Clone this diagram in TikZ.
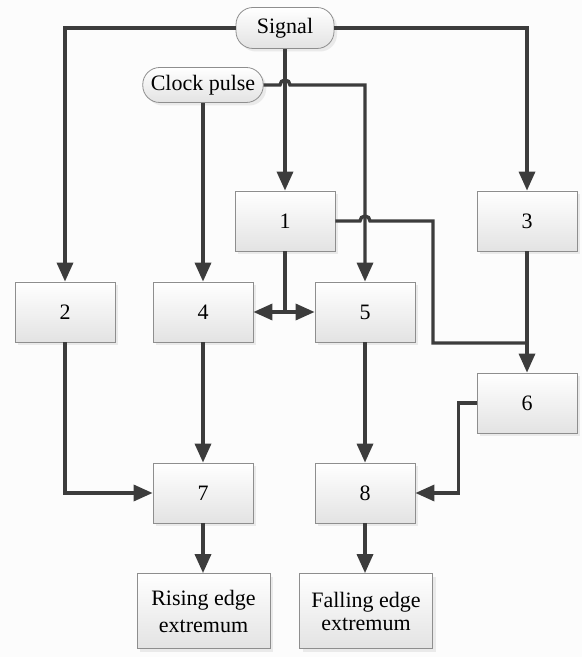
\documentclass[tikz,border=0pt]{standalone}
\usepackage{fontspec}
\setmainfont{Liberation Serif}
\usetikzlibrary{arrows.meta,shadows}
\definecolor{lineGray}{HTML}{3C3C3C}
\definecolor{edgeGray}{HTML}{8E8E8E}
\definecolor{paper}{HTML}{FCFCFC}

\begin{document}
\begin{tikzpicture}[x=0.5pt,y=-0.5pt,
    box/.style={draw=edgeGray, thin, top color=white, bottom color=gray!22,
        minimum width=50pt, minimum height=30pt, inner sep=1pt, align=center,
        drop shadow={shadow xshift=1.5pt, shadow yshift=-1.5pt, fill=gray!30},
        font=\fontsize{11}{12.5}\selectfont},
    pill/.style={box, rounded corners=8.5pt, inner xsep=4pt},
    wire/.style={draw=lineGray, line width=1.7pt},
    arr/.style={wire, -{Triangle[length=9.5pt,width=8pt]}}]

    % page
    \fill[paper] (0,0) rectangle (582,657);
    \useasboundingbox (0,0) rectangle (582,657);

    % inputs
    \node[pill, minimum width=49pt, minimum height=20.5pt] (sig) at (285,28) {Signal};
    \node[pill, minimum width=59pt, minimum height=17.5pt] (clk) at (203,85) {Clock pulse};

    % row 1
    \node[box] (b1) at (285,221) {1};
    \node[box] (b3) at (527,221) {3};
    % row 2
    \node[box] (b2) at (65,312) {2};
    \node[box] (b4) at (203,312) {4};
    \node[box] (b5) at (365,312) {5};
    % row 3
    \node[box] (b6) at (527,403) {6};
    % row 4
    \node[box] (b7) at (203,493) {7};
    \node[box] (b8) at (365,493) {8};
    % outputs
    \node[box, minimum width=66.5pt, minimum height=37.5pt] (rise) at (203.5,611)
        {Rising edge\\[1pt]extremum};
    \node[box, minimum width=66.5pt, minimum height=37.5pt] (fall) at (366,611)
        {Falling edge\\[-1pt]extremum};

    % helper points
    \coordinate (j1) at (sig.south |- clk.east);
    \coordinate (j2) at (b5.north |- b1.east);
    \coordinate (turn) at (433,221);
    \coordinate (mg) at (527,343);
    \coordinate (mid) at (b1.south |- b4.east);

    % signal
    \draw[arr] (sig.west) -| (b2.north);
    \draw[arr] (sig.east) -| (b3.north);
    \draw[arr] (sig.south) -- (b1.north);
    % clock pulse
    \draw[arr] (clk.south) -- (b4.north);
    \draw[arr] (clk.east) -- ([xshift=-2.5pt]j1)
        arc[start angle=180, end angle=0, radius=2.5pt] -| (b5.north);
    % 1
    \draw[wire] (b1.south) -- (mid);
    \draw[arr] (mid) -- (b4.east);
    \draw[arr] (mid) -- (b5.west);
    \draw[wire] (b1.east) -- ([xshift=-2.5pt]j2)
        arc[start angle=180, end angle=0, radius=2.5pt] -- (turn) |- (mg);
    % 3, 6
    \draw[arr] (b3.south) -- (b6.north);
    \draw[arr] (b6.west) -- ++(-18,0) |- (b8.east);
    % 2, 4, 5
    \draw[arr] (b2.south) |- (b7.west);
    \draw[arr] (b4.south) -- (b7.north);
    \draw[arr] (b5.south) -- (b8.north);
    % outputs
    \draw[arr] (b7.south) -- (b7.south |- rise.north);
    \draw[arr] (b8.south) -- (b8.south |- fall.north);
\end{tikzpicture}
\end{document}
